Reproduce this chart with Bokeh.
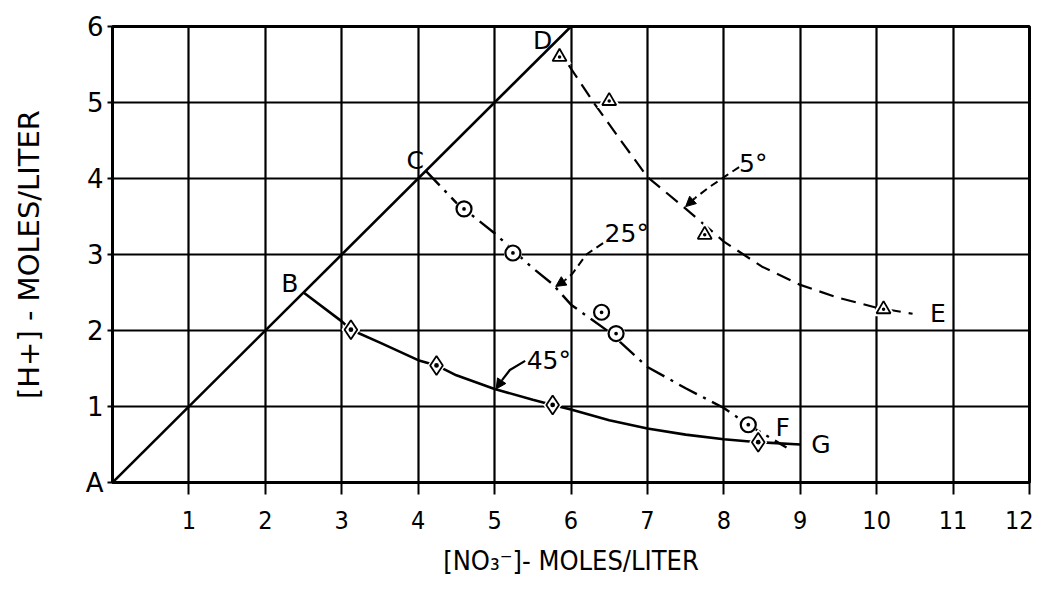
from bokeh.plotting import figure
from bokeh.models import FixedTicker, Label, Arrow, NormalHead, Range1d, LinearAxis
from bokeh.embed import file_html
from bokeh.resources import INLINE

# ---- data ----
x_ticks = [1, 2, 3, 4, 5, 6, 7, 8, 9, 10, 11, 12]
x_tick_labels = ["1", "2", "3", "4", "5", "6", "7", "8", "9", "10", "11", "12"]
y_ticks = [0, 1, 2, 3, 4, 5, 6]
y_tick_labels = ["A", "1", "2", "3", "4", "5", "6"]

# diagonal A-D
ad_x = [0.0, 6.0]
ad_y = [0.0, 6.0]

# 5 deg curve D-E
de_x = [5.97, 6.31, 6.63, 7.0, 7.48, 8.0, 8.5, 9.0, 9.5, 10.0, 10.47]
de_y = [5.49, 4.98, 4.53, 4.02, 3.62, 3.17, 2.84, 2.6, 2.43, 2.3, 2.22]
tri_x = [5.85, 6.5, 7.75, 10.09]
tri_y = [5.6, 5.02, 3.26, 2.28]

# 25 deg curve C-F
cf_x = [4.1, 4.5, 5.0, 5.5, 5.76, 6.0, 6.5, 7.0, 7.5, 8.0, 8.32, 8.82]
cf_y = [4.1, 3.68, 3.28, 2.82, 2.61, 2.34, 1.98, 1.52, 1.24, 0.98, 0.76, 0.46]
circ_x = [4.6, 5.24, 6.4, 6.59, 8.32]
circ_y = [3.6, 3.02, 2.24, 1.96, 0.76]

# 45 deg curve B-G
bg_x = [2.5, 3.0, 3.12, 3.5, 4.0, 4.24, 4.5, 5.0, 5.5, 5.76, 6.0, 6.5, 7.0, 7.5, 8.0, 8.45, 9.0]
bg_y = [2.5, 2.12, 2.01, 1.84, 1.61, 1.54, 1.41, 1.23, 1.09, 1.02, 0.96, 0.82, 0.71, 0.63, 0.57, 0.53, 0.5]
dia_x = [3.12, 4.24, 5.76, 8.45]
dia_y = [2.01, 1.54, 1.02, 0.53]

# point letters (A is the tick label at the origin)
pt_labels = ["B", "C", "D", "E", "F", "G"]
pt_x = [2.32, 3.96, 5.63, 10.8, 8.77, 9.27]
pt_y = [2.62, 4.24, 5.82, 2.23, 0.72, 0.5]

# temperature annotations
temp_labels = ["5°", "25°", "45°"]
temp_x = [8.2, 6.44, 5.42]
temp_y = [4.2, 3.27, 1.6]
lead5_x = [8.2, 8.05, 7.8, 7.62]
lead5_y = [4.15, 4.05, 3.88, 3.74]
lead25_x = [6.42, 6.2, 6.02, 5.92]
lead25_y = [3.15, 3.0, 2.75, 2.66]
lead45_x = [5.4, 5.2, 5.1]
lead45_y = [1.6, 1.48, 1.35]
arrow_tip_x = [7.5, 5.8, 5.02]
arrow_tip_y = [3.63, 2.58, 1.23]

x_title = "[NO₃⁻]- MOLES/LITER"
y_title = "[H+] - MOLES/LITER"

# ---- figure ----
FONT = "DejaVu Sans"
FONT_C = "DejaVu Sans Condensed"

p = figure(width=1033, height=594, x_range=Range1d(0, 12), y_range=Range1d(0, 6),
           output_backend="svg", toolbar_location=None,
           min_border_left=112, min_border_right=4, min_border_top=26, min_border_bottom=112)
p.background_fill_color = "white"
p.border_fill_color = "white"
p.outline_line_color = "black"
p.outline_line_width = 3

p.xaxis.ticker = FixedTicker(ticks=x_ticks)
p.xaxis.major_label_overrides = {t: l for t, l in zip(x_ticks, x_tick_labels)}
p.yaxis.ticker = FixedTicker(ticks=y_ticks)
p.yaxis.major_label_overrides = {t: l for t, l in zip(y_ticks, y_tick_labels)}
for ax in (p.xaxis, p.yaxis):
    ax.minor_tick_line_color = None
    ax.major_tick_in = 0
    ax.major_tick_line_color = "black"
    ax.major_tick_line_width = 2
    ax.axis_line_color = "black"
    ax.axis_line_width = 3
    ax.major_label_text_color = "black"
p.xaxis.major_tick_out = 12
p.xaxis.major_label_standoff = 16
p.xaxis.major_label_text_font = FONT_C
p.xaxis.major_label_text_font_size = "25px"
p.yaxis.major_tick_out = 5
p.yaxis.major_label_standoff = 4
p.yaxis.major_label_text_font = FONT
p.yaxis.major_label_text_font_size = "26px"

# title-only axes placed outside the tick-label axes
xt_axis = LinearAxis(ticker=FixedTicker(ticks=[]), axis_line_color=None,
                     major_tick_line_color=None, minor_tick_line_color=None,
                     major_tick_out=0, major_tick_in=0, major_label_standoff=0,
                     major_label_text_alpha=0,
                     axis_label=x_title, axis_label_standoff=13,
                     axis_label_text_font=FONT_C, axis_label_text_font_size="27px",
                     axis_label_text_font_style="normal", axis_label_text_color="black")
p.add_layout(xt_axis, "below")
yt_axis = LinearAxis(ticker=FixedTicker(ticks=[]), axis_line_color=None,
                     major_tick_line_color=None, minor_tick_line_color=None,
                     major_tick_out=0, major_tick_in=0, major_label_standoff=0,
                     major_label_text_alpha=0,
                     axis_label=y_title, axis_label_standoff=37,
                     axis_label_text_font=FONT, axis_label_text_font_size="29px",
                     axis_label_text_font_style="normal", axis_label_text_color="black")
p.add_layout(yt_axis, "left")

p.xgrid.ticker = FixedTicker(ticks=x_ticks[:-1])
p.ygrid.ticker = FixedTicker(ticks=[1, 2, 3, 4, 5])
for g in (p.xgrid, p.ygrid):
    g.grid_line_color = "black"
    g.grid_line_width = 2.2
    g.grid_line_alpha = 1.0

# white halos that break grid lines around markers
p.scatter(tri_x, tri_y, marker="triangle", size=20, fill_color="white", line_color=None)
p.scatter(dia_x, dia_y, marker="diamond", size=28, fill_color="white", line_color=None)

# curves
p.line(ad_x, ad_y, line_color="black", line_width=2.6)
p.line(de_x, de_y, line_color="black", line_width=2.2, line_dash="15 8")
p.line(cf_x, cf_y, line_color="black", line_width=2.4, line_dash="20 7 3 7")
p.line(bg_x, bg_y, line_color="black", line_width=2.6)

# white halos that break the curves around markers
p.scatter(tri_x, tri_y, marker="triangle", size=24, fill_color="white", line_color=None)
p.scatter(dia_x, dia_y, marker="diamond", size=27, fill_color="white", line_color=None)
p.scatter(circ_x, circ_y, marker="circle", size=18, fill_color="white", line_color=None)

# markers
p.scatter(tri_x, tri_y, marker="triangle_dot", size=14, fill_color="white",
          line_color="black", line_width=1.8)
p.scatter(circ_x, circ_y, marker="circle_dot", size=15, fill_color="white",
          line_color="black", line_width=2.2)
p.scatter(dia_x, dia_y, marker="diamond_dot", size=19, fill_color="white",
          line_color="black", line_width=1.8)

# leaders
p.line(lead5_x, lead5_y, line_color="black", line_width=2, line_dash="8 5")
p.line(lead25_x, lead25_y, line_color="black", line_width=2, line_dash="8 5")
p.line(lead45_x, lead45_y, line_color="black", line_width=2.2)
for lx, ly, tx, ty in zip([lead5_x, lead25_x, lead45_x], [lead5_y, lead25_y, lead45_y],
                          arrow_tip_x, arrow_tip_y):
    p.add_layout(Arrow(x_start=lx[-1], y_start=ly[-1], x_end=tx, y_end=ty,
                       line_color="black", line_width=2.2,
                       end=NormalHead(size=10, fill_color="black", line_color="black")))

for t, x, y in zip(temp_labels, temp_x, temp_y):
    p.add_layout(Label(x=x, y=y, text=t, text_font=FONT, text_font_size="25px",
                       text_align="left", text_baseline="middle", text_color="black"))

for t, x, y in zip(pt_labels, pt_x, pt_y):
    p.add_layout(Label(x=x, y=y, text=t, text_font=FONT, text_font_size="25px",
                       text_align="center", text_baseline="middle", text_color="black"))

open("out.html", "w").write(file_html(p, INLINE))
